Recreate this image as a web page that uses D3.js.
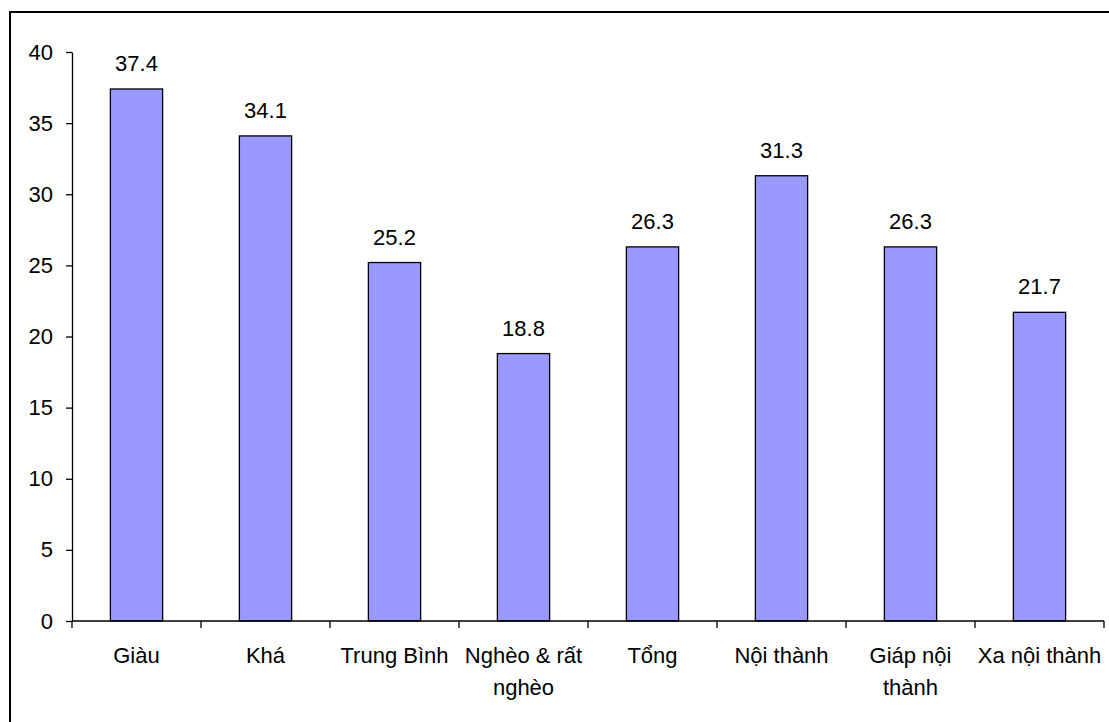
<!DOCTYPE html>
<html>
<head>
<meta charset="utf-8">
<script src="https://cdn.jsdelivr.net/npm/d3@7"></script>
<style>
  html, body { margin: 0; padding: 0; background: #fff; }
  svg { display: block; }
  text { font-family: "Liberation Sans", Arial, sans-serif; fill: #000; }
</style>
</head>
<body>
<script>
// Category labels (line breaks mark where the label wraps)
const categories = ["Giàu", "Khá", "Trung Bình", "Nghèo & rất\nnghèo", "Tổng", "Nội thành", "Giáp nội\nthành", "Xa nội thành"];
// Bar values
const values = [37.4, 34.1, 25.2, 18.8, 26.3, 31.3, 26.3, 21.7];
// Y axis ticks
const yTicks = [0, 5, 10, 15, 20, 25, 30, 35, 40];

const W = 1109, H = 722;
const margin = { left: 72, right: 5, top: 52, bottom: 101 };
const fontSize = 22;

const svg = d3.select("body").append("svg")
  .attr("width", W).attr("height", H);

// outer frame of the chart area
svg.append("rect")
  .attr("x", 10).attr("y", 12)
  .attr("width", 1300).attr("height", 900)
  .attr("fill", "none").attr("stroke", "#000").attr("stroke-width", 2);

const x = d3.scaleBand()
  .domain(categories)
  .range([margin.left, W - margin.right])
  .paddingInner(0).paddingOuter(0);

const y = d3.scaleLinear()
  .domain([0, 40])
  .range([H - margin.bottom, margin.top]);

const barW = x.bandwidth() * 0.405;

// bars
svg.append("g").selectAll("rect")
  .data(values)
  .join("rect")
  .attr("x", (d, i) => x(categories[i]) + x.bandwidth() / 2 - barW / 2)
  .attr("y", d => y(d))
  .attr("width", barW)
  .attr("height", d => y(0) - y(d))
  .attr("fill", "#9999FF")
  .attr("stroke", "#000")
  .attr("stroke-width", 1.3);

// value labels above bars
svg.append("g").selectAll("text")
  .data(values)
  .join("text")
  .attr("x", (d, i) => x(categories[i]) + x.bandwidth() / 2)
  .attr("y", d => y(d) - 18)
  .attr("text-anchor", "middle")
  .attr("font-size", fontSize)
  .text(d => d.toFixed(1));

// y axis
const yAxis = svg.append("g")
  .attr("transform", `translate(${margin.left},0)`)
  .call(d3.axisLeft(y).tickValues(yTicks).tickSize(6).tickPadding(13).tickSizeOuter(0));
yAxis.select(".domain").attr("stroke", "#000").attr("stroke-width", 1.3);
yAxis.selectAll(".tick line").attr("stroke", "#000").attr("stroke-width", 1.3);
yAxis.selectAll(".tick text")
  .attr("font-size", fontSize)
  .attr("font-family", "Liberation Sans, Arial, sans-serif")
  .attr("fill", "#000");

// x axis: ticks at the band boundaries
const xAxisG = svg.append("g");
xAxisG.append("line")
  .attr("x1", margin.left).attr("x2", W - margin.right)
  .attr("y1", y(0)).attr("y2", y(0))
  .attr("stroke", "#000").attr("stroke-width", 1.3);
const bounds = categories.map(c => x(c)).concat([x.range()[1]]);
xAxisG.selectAll("line.tk")
  .data(bounds)
  .join("line")
  .attr("class", "tk")
  .attr("x1", d => d).attr("x2", d => d)
  .attr("y1", y(0)).attr("y2", y(0) + 7)
  .attr("stroke", "#000").attr("stroke-width", 1.3);

// category labels
const lbl = svg.append("g").selectAll("text")
  .data(categories)
  .join("text")
  .attr("x", d => x(d) + x.bandwidth() / 2)
  .attr("y", y(0) + 42)
  .attr("text-anchor", "middle")
  .attr("font-size", fontSize);
lbl.each(function(d) {
  const t = d3.select(this);
  d.split("\n").forEach((line, i) => {
    t.append("tspan")
      .attr("x", t.attr("x"))
      .attr("dy", i === 0 ? 0 : 32)
      .text(line);
  });
});
</script>
</body>
</html>
